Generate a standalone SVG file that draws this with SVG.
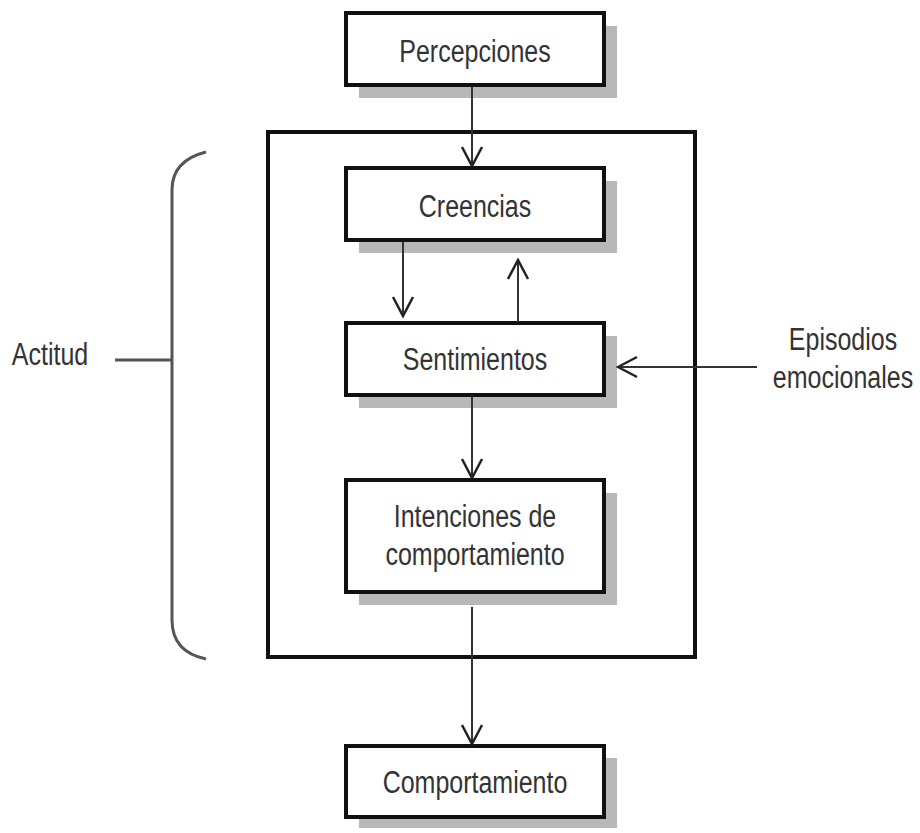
<svg xmlns="http://www.w3.org/2000/svg" width="920" height="833" viewBox="0 0 920 833">
<style>
.box{fill:#fff;stroke:#111;stroke-width:4}
.shadow{fill:#b8b8b8}
.t{font-family:"Liberation Sans",Arial,sans-serif;font-size:25px;fill:#333;text-anchor:middle}
.c{stroke:#333;stroke-width:2;fill:none}
.br{stroke:#555;stroke-width:3;fill:none}
</style>
<defs>
<marker id="ah" viewBox="0 0 24 24" refX="22" refY="12" markerWidth="24" markerHeight="24" markerUnits="userSpaceOnUse" orient="auto">
<path d="M3,2 L22,12 L3,22" fill="none" stroke="#222" stroke-width="2.5"/>
</marker>
</defs>
<rect width="920" height="833" fill="#fff"/>
<g id="attitude-frame">
<rect x="268" y="132" width="427" height="525" fill="none" stroke="#111" stroke-width="4"/>
</g>
<g id="percepciones">
<rect class="shadow" x="359" y="26" width="258" height="72"/>
<rect class="box" x="346" y="13" width="258" height="72" stroke-width="5"/>
<text class="t" transform="translate(475,62) scale(1,1.25)">Percepciones</text>
</g>
<g id="creencias">
<rect class="shadow" x="359" y="181" width="258" height="72"/>
<rect class="box" x="346" y="168" width="258" height="72"/>
<text class="t" transform="translate(475,217) scale(1,1.25)">Creencias</text>
</g>
<g id="sentimientos">
<rect class="shadow" x="359" y="336" width="258" height="72"/>
<rect class="box" x="346" y="323" width="258" height="72"/>
<text class="t" transform="translate(475,370) scale(1,1.25)">Sentimientos</text>
</g>
<g id="intenciones">
<rect class="shadow" x="359" y="493" width="258" height="112"/>
<rect class="box" x="346" y="480" width="258" height="112"/>
<text class="t" transform="translate(475,527) scale(1,1.25)">Intenciones de</text>
<text class="t" transform="translate(475,565) scale(1,1.25)">comportamiento</text>
</g>
<g id="comportamiento">
<rect class="shadow" x="359" y="758" width="258" height="70"/>
<rect class="box" x="346" y="746" width="258" height="71"/>
<text class="t" transform="translate(475,793) scale(1,1.25)">Comportamiento</text>
</g>
<g id="actitud">
<text class="t" transform="translate(50,365) scale(1,1.25)">Actitud</text>
<path class="br" d="M115,360 H172"/>
<path class="br" d="M206,152 C182,158 172,172 172,190 V620 C172,640 182,654 206,659"/>
</g>
<g id="episodios">
<text class="t" transform="translate(843,350) scale(1,1.25)">Episodios</text>
<text class="t" transform="translate(843,388) scale(1,1.25)">emocionales</text>
</g>
<g id="connectors">
<path class="c" d="M472,87 V166" marker-end="url(#ah)"/>
<path class="c" d="M403,242 V316" marker-end="url(#ah)"/>
<path class="c" d="M518,322 V260" marker-end="url(#ah)"/>
<path class="c" d="M472,397 V478" marker-end="url(#ah)"/>
<path class="c" d="M472,607 V744" marker-end="url(#ah)"/>
<path class="c" d="M757,367 H618" stroke-width="3" marker-end="url(#ah)"/>
</g>
</svg>
